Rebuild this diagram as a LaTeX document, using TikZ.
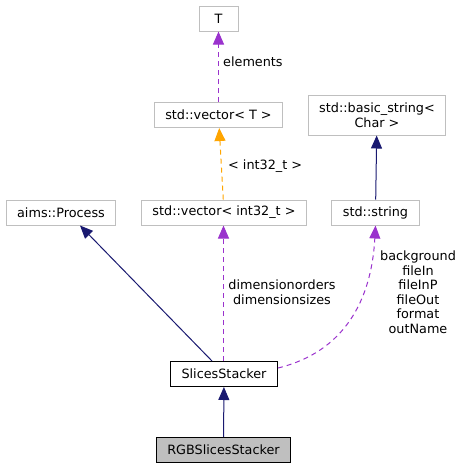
\documentclass[tikz,border=0pt]{standalone}
\usepackage{fontspec}
\setmainfont{DejaVu Sans}
\usetikzlibrary{arrows.meta}
\definecolor{edgeblue}{HTML}{191970}
\definecolor{edgepurple}{HTML}{9A32CD}
\definecolor{edgeorange}{HTML}{FFA500}
\definecolor{boxgray}{HTML}{BFBFBF}

\begin{document}
\begin{tikzpicture}
	[x=1pt, y=-1pt, font=\fontsize{12.8}{14.5}\selectfont,
	every node/.style={rectangle,inner xsep=11pt,inner ysep=0pt,minimum height=25pt,minimum width=39pt},
	cls/.style={draw=boxgray,line width=1pt},
	main/.style={draw=black,line width=1pt},
	inherit/.style={edgeblue,line width=1pt,-{Triangle[length=13pt,width=11pt]}},
	usage/.style={edgepurple,line width=1pt,dash pattern=on 5pt off 4pt,-{Triangle[length=13pt,width=11pt]}},
	templ/.style={edgeorange,line width=1pt,dash pattern=on 5pt off 4pt,-{Triangle[length=13pt,width=11pt]}},
	lbl/.style={inner sep=0pt,minimum height=0pt,minimum width=0pt,align=center}]
	\useasboundingbox (0,0) rectangle (463,469);
	\node (T) [cls] at (218.5,18.5) {T};
	\node (vecT) [cls] at (218.5,115) {std::vector< T >};
	\node (bstr) [cls,minimum height=40pt,align=center] at (377,115) {std::basic\_string<\\Char >};
	\node (proc) [cls] at (61,212.5) {aims::Process};
	\node (vec32) [cls] at (224,212.5) {std::vector< int32\_t >};
	\node (str) [cls] at (375.5,212.5) {std::string};
	\node (stack) [main] at (224,374) {SlicesStacker};
	\node (rgb) [main,fill=boxgray] at (223.5,450) {RGBSlicesStacker};
	\draw [usage] (vecT) -- (T);
	\draw [templ] (vec32) -- (vecT);
	\draw [inherit] (str) -- (bstr);
	\draw [inherit] ([xshift=-12pt]stack.north) -- ([xshift=19pt]proc.south);
	\draw [usage] ([xshift=-0.5pt]stack.north) -- ([xshift=-0.5pt]vec32.south);
	\draw [usage] ([yshift=6pt]stack.east) .. controls +(66,-16) and +(-4,75) .. (str.south);
	\draw [inherit] (rgb) -- (stack);
	\node (lelem) [lbl,anchor=west] at (223,62) {elements};
	\node (ltempl) [lbl,anchor=west] at (228,166) {< int32\_t >};
	\node (ldim) [lbl] at (282,292) {dimensionorders\\dimensionsizes};
	\node (lstr) [lbl] at (418,292) {background\\fileIn\\fileInP\\fileOut\\format\\outName};
\end{tikzpicture}
\end{document}
